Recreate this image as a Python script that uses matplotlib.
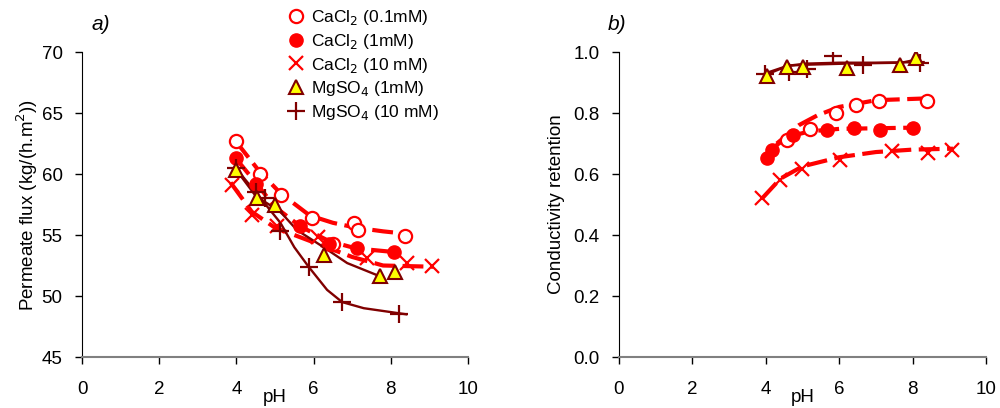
"""Permeate flux and conductivity retention versus pH for CaCl2 and MgSO4 feeds."""
import matplotlib
matplotlib.use("Agg")
import matplotlib.pyplot as plt
from matplotlib.lines import Line2D

plt.rcParams["font.family"] = ["Liberation Sans", "DejaVu Sans"]

RED = "#FF0000"
DARK = "#800000"
YELLOW = "#FFFF00"

labels = ["CaCl$_2$ (0.1mM)", "CaCl$_2$ (1mM)", "CaCl$_2$ (10 mM)",
          "MgSO$_4$ (1mM)", "MgSO$_4$ (10 mM)"]

# ---- panel a: permeate flux, measured points
a_ca01_ph = [3.98, 4.6, 5.15, 5.95, 6.5, 7.05, 7.15, 8.37]
a_ca01_flux = [62.7, 60.0, 58.3, 56.4, 54.3, 56.0, 55.4, 54.9]
a_ca1_ph = [3.98, 4.5, 5.66, 6.4, 7.12, 8.07]
a_ca1_flux = [61.3, 59.2, 55.7, 54.3, 53.9, 53.6]
a_ca10_ph = [3.89, 4.41, 5.06, 6.12, 7.38, 8.42, 9.06]
a_ca10_flux = [59.1, 56.6, 55.7, 54.8, 53.1, 52.7, 52.5]
a_mg1_ph = [3.98, 4.54, 5.01, 6.26, 7.71, 8.11]
a_mg1_flux = [60.3, 58.0, 57.5, 53.4, 51.6, 52.0]
a_mg10_ph = [3.98, 4.5, 4.75, 5.14, 5.87, 6.74, 8.22]
a_mg10_flux = [60.5, 58.5, 58.0, 55.3, 52.4, 49.5, 48.5]

# ---- panel a: trend curves
ta_ca01_ph = [3.98, 4.6, 5.15, 5.9, 6.5, 7.1, 7.8, 8.4]
ta_ca01_flux = [62.7, 60.2, 58.4, 56.6, 56.0, 55.6, 55.3, 55.1]
ta_ca1_ph = [3.98, 4.5, 5.0, 5.66, 6.4, 7.1, 8.1]
ta_ca1_flux = [61.3, 59.3, 57.3, 55.7, 54.5, 53.9, 53.6]
ta_ca10_ph = [3.85, 4.4, 5.0, 6.0, 7.0, 7.8, 9.1]
ta_ca10_flux = [59.3, 56.9, 55.6, 54.4, 53.2, 52.5, 52.4]
ta_mg1_ph = [3.98, 4.5, 5.14, 5.57, 6.26, 6.87, 7.73]
ta_mg1_flux = [60.4, 58.2, 56.9, 55.4, 54.0, 52.7, 51.6]
ta_mg10_ph = [3.98, 4.5, 5.14, 5.5, 5.87, 6.35, 6.74, 7.3, 8.4]
ta_mg10_flux = [60.5, 58.5, 56.0, 54.0, 52.4, 50.5, 49.5, 49.0, 48.5]

# ---- panel b: conductivity retention, measured points
b_ca01_ph = [4.57, 5.2, 5.91, 6.46, 7.08, 8.4]
b_ca01_ret = [0.712, 0.747, 0.801, 0.826, 0.839, 0.840]
b_ca1_ph = [4.02, 4.16, 4.75, 5.66, 6.39, 7.11, 8.02]
b_ca1_ret = [0.652, 0.680, 0.728, 0.745, 0.750, 0.745, 0.750]
b_ca10_ph = [3.89, 4.39, 4.98, 6.02, 7.43, 8.43, 9.06]
b_ca10_ret = [0.522, 0.582, 0.618, 0.647, 0.674, 0.669, 0.680]
b_mg1_ph = [4.02, 4.57, 5.0, 6.2, 7.66, 8.09]
b_mg1_ret = [0.922, 0.951, 0.951, 0.949, 0.959, 0.980]
b_mg10_ph = [3.98, 4.63, 5.11, 5.84, 6.66, 8.2]
b_mg10_ret = [0.929, 0.935, 0.945, 0.987, 0.957, 0.965]

# ---- panel b: trend curves
tb_ca01_ph = [4.3, 4.9, 5.4, 6.0, 7.0, 8.4]
tb_ca01_ret = [0.700, 0.760, 0.792, 0.820, 0.842, 0.848]
tb_ca1_ph = [4.1, 4.3, 4.6, 5.2, 6.0, 7.0, 8.0]
tb_ca1_ret = [0.665, 0.695, 0.722, 0.740, 0.748, 0.750, 0.752]
tb_ca10_ph = [3.9, 4.4, 5.0, 6.0, 7.0, 8.0, 9.1]
tb_ca10_ret = [0.520, 0.585, 0.625, 0.655, 0.672, 0.680, 0.683]
tb_mg1_ph = [4.0, 4.3, 4.6, 5.0, 6.2, 7.7, 8.1]
tb_mg1_ret = [0.925, 0.940, 0.955, 0.958, 0.962, 0.965, 0.975]
tb_mg10_ph = [3.98, 4.6, 5.1, 6.0, 7.0, 8.3]
tb_mg10_ret = [0.930, 0.955, 0.962, 0.965, 0.965, 0.967]

dash = dict(color=RED, lw=3.0, ls=(0, (5, 1.8)), dash_capstyle="butt")
solid = dict(color=DARK, lw=1.7)

m_open = dict(marker="o", ms=9.5, mfc="white", mec=RED, mew=1.6, ls="none")
m_fill = dict(marker="o", ms=9.5, mfc=RED, mec=RED, ls="none")
m_x = dict(marker="x", ms=10, mec=RED, mew=1.6, ls="none")
m_tri = dict(marker="^", ms=9.5, mfc=YELLOW, mec=DARK, mew=1.5, ls="none")
m_plus = dict(marker="+", ms=13, mec=DARK, mew=1.6, ls="none")


def style_axes(ax):
    for side in ("top", "right"):
        ax.spines[side].set_visible(False)
    ax.spines["left"].set_color("black")
    ax.spines["bottom"].set_color("#808080")
    ax.spines["bottom"].set_linewidth(1.5)
    ax.tick_params(direction="out", length=5, width=1, labelsize=13.5,
                   colors="black")
    ax.tick_params(axis="x", pad=12)
    ax.tick_params(axis="y", pad=9)
    ax.set_xlim(0, 10)
    ax.set_xticks(range(0, 11, 2))


fig = plt.figure(figsize=(10, 4.08), dpi=100)
ax1 = fig.add_axes([0.082, 0.125, 0.386, 0.7475])
ax2 = fig.add_axes([0.619, 0.125, 0.367, 0.7475])

# panel a
ax1.plot(ta_ca01_ph, ta_ca01_flux, **dash)
ax1.plot(ta_ca1_ph, ta_ca1_flux, **dash)
ax1.plot(ta_ca10_ph, ta_ca10_flux, **dash)
ax1.plot(ta_mg1_ph, ta_mg1_flux, **solid)
ax1.plot(ta_mg10_ph, ta_mg10_flux, **solid)
ax1.plot(a_ca01_ph, a_ca01_flux, **m_open)
ax1.plot(a_ca1_ph, a_ca1_flux, **m_fill)
ax1.plot(a_ca10_ph, a_ca10_flux, **m_x)
ax1.plot(a_mg10_ph, a_mg10_flux, **m_plus)
ax1.plot(a_mg1_ph, a_mg1_flux, **m_tri)
style_axes(ax1)
ax1.set_ylim(45, 70)
ax1.set_yticks(range(45, 71, 5))
ax1.set_ylabel("Permeate flux (kg/(h.m$^2$))", fontsize=13.5, labelpad=1)
ax1.set_xlabel("pH", fontsize=13.5, labelpad=-6)
fig.text(0.092, 0.94, "a)", fontsize=15, style="italic", ha="left", va="center")

# panel b
ax2.plot(tb_ca01_ph, tb_ca01_ret, **dash)
ax2.plot(tb_ca1_ph, tb_ca1_ret, **dash)
ax2.plot(tb_ca10_ph, tb_ca10_ret, **dash)
ax2.plot(tb_mg1_ph, tb_mg1_ret, **solid)
ax2.plot(tb_mg10_ph, tb_mg10_ret, **solid)
ax2.plot(b_ca01_ph, b_ca01_ret, **m_open)
ax2.plot(b_ca1_ph, b_ca1_ret, **m_fill)
ax2.plot(b_ca10_ph, b_ca10_ret, **m_x)
ax2.plot(b_mg10_ph, b_mg10_ret, **m_plus)
ax2.plot(b_mg1_ph, b_mg1_ret, **m_tri)
style_axes(ax2)
ax2.set_ylim(0, 1.0)
ax2.set_yticks([0.0, 0.2, 0.4, 0.6, 0.8, 1.0])
ax2.set_yticklabels([f"{v:.1f}" for v in ax2.get_yticks()])
ax2.set_ylabel("Conductivity retention", fontsize=13.5, labelpad=6)
ax2.set_xlabel("pH", fontsize=13.5, labelpad=-6)
fig.text(0.608, 0.94, "b)", fontsize=15, style="italic", ha="left", va="center")

# legend with marker-only handles
handles = [Line2D([], [], **m_open), Line2D([], [], **m_fill),
           Line2D([], [], **m_x), Line2D([], [], **m_tri),
           Line2D([], [], **m_plus)]
fig.legend(handles, labels, loc="upper left", bbox_to_anchor=(0.28, 0.997),
           frameon=False, fontsize=12.5, handlelength=1.0, handletextpad=0.4,
           labelspacing=0.27, borderaxespad=0)

fig.savefig("out.png", dpi=100)
